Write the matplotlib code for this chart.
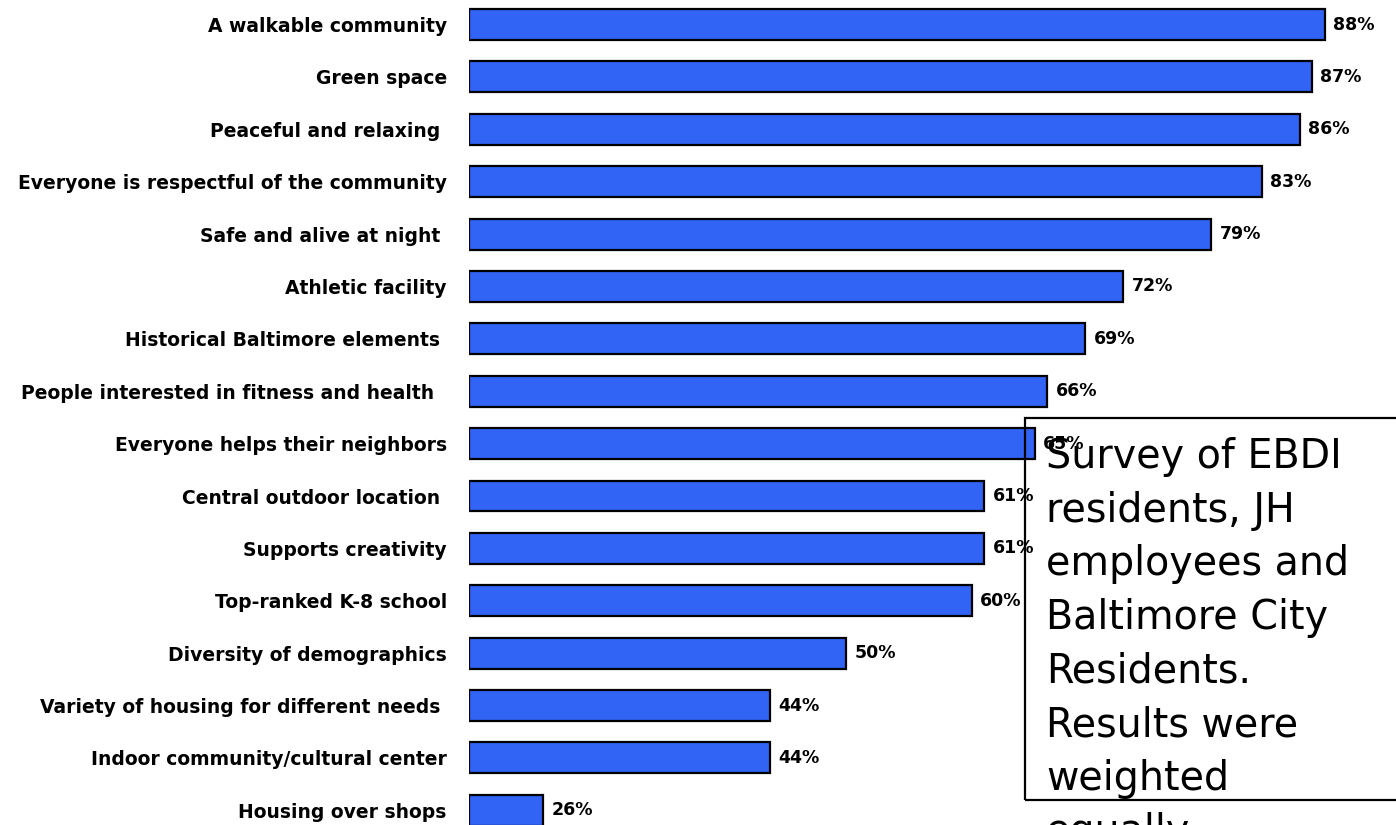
import numpy as np
import matplotlib
matplotlib.use("Agg")
import matplotlib.pyplot as plt
from matplotlib.patches import Rectangle

plt.rcParams['font.family'] = ['DejaVu Sans']

# survey data, top to bottom
labels = [
    "A walkable community",
    "Green space",
    "Peaceful and relaxing ",
    "Everyone is respectful of the community",
    "Safe and alive at night ",
    "Athletic facility",
    "Historical Baltimore elements ",
    "People interested in fitness and health  ",
    "Everyone helps their neighbors",
    "Central outdoor location ",
    "Supports creativity",
    "Top-ranked K-8 school",
    "Diversity of demographics",
    "Variety of housing for different needs ",
    "Indoor community/cultural center",
    "Housing over shops",
]
values = [88, 87, 86, 83, 79, 72, 69, 66, 65, 61, 61, 60, 50, 44, 44, 26]
note = "Survey of EBDI\nresidents, JH\nemployees and\nBaltimore City\nResidents.\nResults were\nweighted\nequally."

base = 20.1  # axis minimum used by the original chart

fig = plt.figure(figsize=(13.96, 8.25), dpi=100)
ax = fig.add_axes([469 / 1396, 0, 1 - 469 / 1396, 1])

y = np.arange(len(values))
vals = np.array(values, dtype=float)
ax.barh(y, vals - base, left=base, height=0.59, color="#3163f5",
        edgecolor="black", linewidth=1.6, zorder=3)

for yi, v in zip(y, values):
    ax.annotate(f"{v}%", xy=(v, yi), xytext=(6, 0), textcoords="offset points",
                va="center", ha="left", fontsize=12.5, fontweight="bold", zorder=4)

ax.set_xlim(base, (1396 - 215) / 12.61)
ax.set_ylim(15.28, -0.468)
ax.set_yticks(y)
ax.set_yticklabels(labels, fontsize=13.5, fontweight="bold")
ax.tick_params(axis="y", length=0, pad=16)
ax.set_xticks([])
for s in ax.spines.values():
    s.set_visible(False)

# note box in the lower right
fig.patches.append(Rectangle((1025 / 1396, 1 - 800 / 825), 400 / 1396, 382 / 825,
                             transform=fig.transFigure, fill=False,
                             edgecolor="black", linewidth=1.6, zorder=1))
fig.text(1046 / 1396, 1 - 437 / 825, note, ha="left", va="top", fontsize=28.5,
         family="DejaVu Sans", linespacing=1.44, zorder=5)

fig.savefig("out.png", dpi=100)
